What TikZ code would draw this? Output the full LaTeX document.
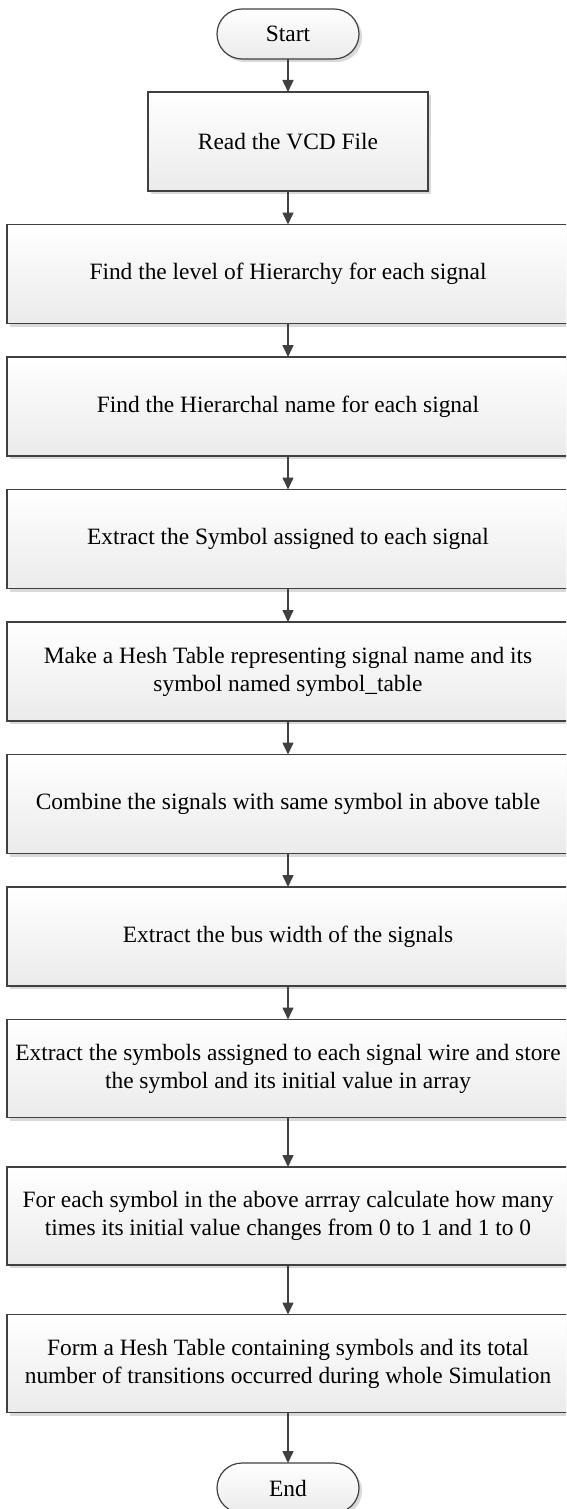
\documentclass[tikz,border=0pt]{standalone}
\usepackage{fontspec}
\setmainfont{Liberation Serif}
\usetikzlibrary{shapes.geometric,arrows.meta,positioning,shadows}
\definecolor{edgegray}{HTML}{404040}
\tikzset
{
    terminal/.style = {rectangle, rounded corners=25pt, draw=edgegray, line width=1.2pt, top color=white, bottom color=black!8, minimum width=142pt, minimum height=50pt, outer sep=0pt, align=center, drop shadow={shadow xshift=3pt, shadow yshift=-3pt, fill=black!15, opacity=1}},
    process/.style  = {rectangle, draw=edgegray, line width=1.2pt, top color=white, bottom color=black!8, minimum width=562pt, minimum height=99pt, outer sep=0pt, align=center, drop shadow={shadow xshift=3pt, shadow yshift=-3pt, fill=black!15, opacity=1}},
    readbox/.style  = {process, minimum width=280pt},
    lowbox/.style   = {process, minimum height=98pt},
    flowarrow/.style = {draw=edgegray, line width=1.6pt, -{Triangle[width=11pt,length=12pt]}}
}

\begin{document}
\begin{tikzpicture}[x=1pt, y=1pt, font=\fontsize{23.4}{28}\selectfont]
\clip (0,0) rectangle (566,-1509);
\node[terminal] (start) at (288,-34) {Start};
\node[readbox, below=33pt of start] (read) {Read the VCD File};
\node[process, below=33.5pt of read] (level) {Find the level of Hierarchy for each signal};
\node[process, below=33.5pt of level] (hiername) {Find the Hierarchal name for each signal};
\node[process, below=33.5pt of hiername] (symbol) {Extract the Symbol assigned to each signal};
\node[process, below=33.5pt of symbol] (hesh) {Make a Hesh Table representing signal name and its\\symbol named symbol\_table};
\node[process, below=33.5pt of hesh] (combine) {Combine the signals with same symbol in above table};
\node[process, below=33.5pt of combine] (buswidth) {Extract the bus width of the signals};
\node[lowbox, below=33.5pt of buswidth] (extract) {Extract the symbols assigned to each signal wire and store\\the symbol and its initial value in array};
\node[lowbox, below=49.5pt of extract] (count) {For each symbol in the above arrray calculate how many\\times its initial value changes from 0 to 1 and 1 to 0};
\node[lowbox, below=49.5pt of count] (form) {Form a Hesh Table containing symbols and its total\\number of transitions occurred during whole Simulation};
\node[terminal, below=50.5pt of form] (finish) {End};

\draw[flowarrow] (start) -- (read);
\draw[flowarrow] (read) -- (level);
\draw[flowarrow] (level) -- (hiername);
\draw[flowarrow] (hiername) -- (symbol);
\draw[flowarrow] (symbol) -- (hesh);
\draw[flowarrow] (hesh) -- (combine);
\draw[flowarrow] (combine) -- (buswidth);
\draw[flowarrow] (buswidth) -- (extract);
\draw[flowarrow] (extract) -- (count);
\draw[flowarrow] (count) -- (form);
\draw[flowarrow] (form) -- (finish);
\end{tikzpicture}
\end{document}
